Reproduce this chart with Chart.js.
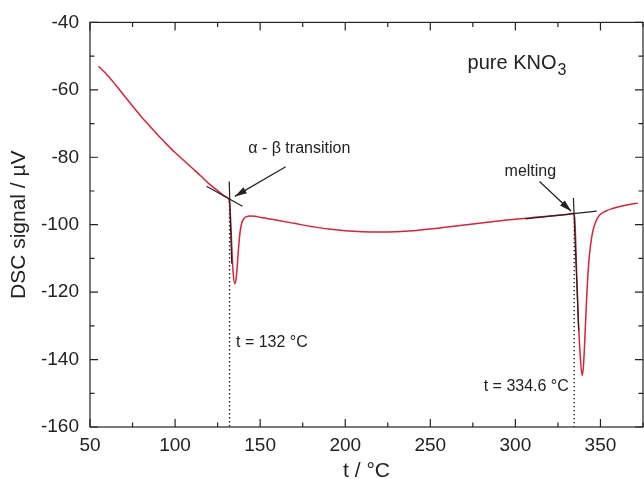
<!DOCTYPE html>
<html>
<head>
<meta charset="utf-8">
<script src="https://cdn.jsdelivr.net/npm/chart.js@4.4.1/dist/chart.umd.min.js"></script>
<style>
html, body { margin: 0; padding: 0; background: #fff; }
</style>
</head>
<body>
<canvas id="myChart" width="644" height="479"></canvas>
<script>
// DSC curve of pure KNO3
const temps = [55, 60, 65, 70, 75, 80, 85, 90, 95, 100, 105, 110, 115, 120, 125, 130,
    131.6, 132.4, 133.2, 134.1, 135.1, 136.0, 137.0, 138.0, 139.0, 140.5, 142, 144, 147, 150,
    160, 170, 180, 190, 200, 210, 220, 230, 240, 250, 260, 270, 280, 290, 300, 310, 320, 330,
    334.3, 335, 336, 337, 338, 339.2, 340, 340.6, 341.9, 343, 344.2, 345.5, 347.5, 349.4, 353, 357, 362, 367, 372];
const signal = [-53, -55.5, -58.5, -61.7, -64.8, -67.9, -70.7, -73.5, -76.1, -78.6, -80.9, -83.2, -85.5, -87.9, -89.9, -91.8,
    -92.5, -96, -105, -114, -117.5, -115.5, -109, -103, -99.8, -98.2, -97.6, -97.4, -97.5, -97.8,
    -98.7, -99.6, -100.5, -101.3, -101.8, -102.1, -102.2, -102.1, -101.8, -101.3, -100.7, -100.1, -99.5, -98.9, -98.4, -97.9, -97.4, -97.0,
    -96.6, -99, -114, -128, -138, -144.7, -142, -136.3, -121.6, -112, -106, -101.9, -98.8, -97.2, -96, -95.2, -94.5, -94.0, -93.6];

// tangent construction (black lines)
const alphaBaseX = [118.5, 139.6];
const alphaBaseY = [-88.6, -94.5];
const alphaSteepX = [131.8, 133.3];
const alphaSteepY = [-87.2, -111.6];
const meltBaseX = [305.9, 347.8];
const meltBaseY = [-98.3, -96.0];
const meltSteepX = [334.1, 337.2];
const meltSteepY = [-92.1, -131.4];

// onset temperatures (dotted verticals)
const onsetT = [132, 334.6];
const onsetTopY = [-93, -98];

// arrows: tail -> tip
const arrowTailX = [165.0, 314.2];
const arrowTailY = [-82.8, -87.2];
const arrowTipX = [135.1, 332.8];
const arrowTipY = [-91.6, -96.0];

// axis ranges
const xMin = 50, xMax = 375, xStep = 50;
const yMin = -160, yMax = -40, yStep = 20;

// text labels placed in data coordinates
const notes = [
    { text: '\u03b1 - \u03b2 transition', x: 143, y: -77.5, align: 'left' },
    { text: 'melting', x: 308.8, y: -84.2, align: 'center' },
    { text: 't = 132 \u00b0C', x: 135.8, y: -134.9, align: 'left' },
    { text: 't = 334.6 \u00b0C', x: 331.4, y: -148.1, align: 'right' }
];

const FONT = "'Liberation Sans', Arial, sans-serif";
const INK = '#222';

function pts(xs, ys) {
    return xs.map((v, i) => ({ x: v, y: ys[i] }));
}

function blackLine(xs, ys) {
    return {
        data: pts(xs, ys),
        showLine: true,
        borderColor: INK,
        borderWidth: 1.2,
        pointRadius: 0
    };
}

const datasets = [
    blackLine(alphaBaseX, alphaBaseY),
    blackLine(alphaSteepX, alphaSteepY),
    blackLine(meltBaseX, meltBaseY),
    blackLine(meltSteepX, meltSteepY),
    {
        data: pts(temps, signal),
        showLine: true,
        borderColor: '#d3243a',
        borderWidth: 1.5,
        pointRadius: 0,
        cubicInterpolationMode: 'monotone'
    }
];

onsetT.forEach((t, i) => {
    datasets.push({
        data: pts([t, t], [onsetTopY[i], yMin]),
        showLine: true,
        borderColor: INK,
        borderWidth: 1.4,
        borderDash: [1.4, 2.6],
        pointRadius: 0
    });
});

arrowTailX.forEach((x0, i) => {
    datasets.push(blackLine([x0, arrowTipX[i]], [arrowTailY[i], arrowTipY[i]]));
});

// frame with inward ticks on all four sides
const frameTicks = {
    id: 'frameTicks',
    afterDatasetsDraw(chart) {
        const { ctx, chartArea: a, scales: { x, y } } = chart;
        ctx.save();
        ctx.strokeStyle = INK;
        ctx.lineWidth = 1.2;
        ctx.beginPath();
        for (let v = xMin; v <= xMax; v += xStep / 2) {
            const px = x.getPixelForValue(v);
            const len = (v - xMin) % xStep === 0 ? 8 : 4.5;
            ctx.moveTo(px, a.bottom); ctx.lineTo(px, a.bottom - len);
            ctx.moveTo(px, a.top); ctx.lineTo(px, a.top + len);
        }
        for (let v = yMin; v <= yMax; v += yStep / 2) {
            const py = y.getPixelForValue(v);
            const len = (v - yMin) % yStep === 0 ? 8 : 4.5;
            ctx.moveTo(a.left, py); ctx.lineTo(a.left + len, py);
            ctx.moveTo(a.right, py); ctx.lineTo(a.right - len, py);
        }
        ctx.stroke();
        ctx.strokeRect(a.left, a.top, a.right - a.left, a.bottom - a.top);
        ctx.restore();
    }
};

// arrowheads and text notes
const notesPlugin = {
    id: 'notes',
    afterDraw(chart) {
        const { ctx, scales: { x, y } } = chart;
        ctx.save();
        ctx.fillStyle = INK;

        arrowTipX.forEach((tx, i) => {
            const x1 = x.getPixelForValue(tx), y1 = y.getPixelForValue(arrowTipY[i]);
            const x0 = x.getPixelForValue(arrowTailX[i]), y0 = y.getPixelForValue(arrowTailY[i]);
            const ang = Math.atan2(y1 - y0, x1 - x0);
            ctx.beginPath();
            ctx.moveTo(x1, y1);
            ctx.lineTo(x1 - 12 * Math.cos(ang) + 3.5 * Math.sin(ang), y1 - 12 * Math.sin(ang) - 3.5 * Math.cos(ang));
            ctx.lineTo(x1 - 12 * Math.cos(ang) - 3.5 * Math.sin(ang), y1 - 12 * Math.sin(ang) + 3.5 * Math.cos(ang));
            ctx.closePath();
            ctx.fill();
        });

        ctx.font = '16px ' + FONT;
        ctx.textBaseline = 'middle';
        notes.forEach(n => {
            ctx.textAlign = n.align;
            ctx.fillText(n.text, x.getPixelForValue(n.x), y.getPixelForValue(n.y));
        });

        // sample name with subscript
        const bx = x.getPixelForValue(271.9), by = y.getPixelForValue(-53.9);
        ctx.textAlign = 'left';
        ctx.textBaseline = 'alphabetic';
        ctx.font = '20px ' + FONT;
        ctx.fillText('pure KNO', bx, by);
        const w = ctx.measureText('pure KNO').width;
        ctx.font = '16px ' + FONT;
        ctx.fillText('3', bx + w + 1, by + 6);
        ctx.restore();
    }
};

new Chart(document.getElementById('myChart'), {
    type: 'scatter',
    data: { datasets: datasets },
    options: {
        responsive: false,
        animation: false,
        devicePixelRatio: 1,
        layout: { padding: { top: 20, right: 1, left: 0, bottom: 0 } },
        plugins: {
            legend: { display: false },
            tooltip: { enabled: false }
        },
        scales: {
            x: {
                type: 'linear',
                min: xMin,
                max: xMax,
                grid: { display: false, drawTicks: false, tickLength: 0 },
                border: { display: false },
                ticks: {
                    stepSize: xStep,
                    includeBounds: false,
                    padding: 7,
                    color: INK,
                    font: { family: FONT, size: 19 }
                },
                title: {
                    display: true,
                    text: 't / \u00b0C',
                    color: INK,
                    font: { family: FONT, size: 21, lineHeight: 0.76 },
                    padding: { top: 0, bottom: 0 }
                },
                afterFit(scale) { scale.height = 52; }
            },
            y: {
                min: yMin,
                max: yMax,
                grid: { display: false, drawTicks: false, tickLength: 0 },
                border: { display: false },
                ticks: {
                    stepSize: yStep,
                    padding: 11,
                    color: INK,
                    font: { family: FONT, size: 19 }
                },
                title: {
                    display: true,
                    text: 'DSC signal / \u00b5V',
                    color: INK,
                    font: { family: FONT, size: 21 },
                    padding: { top: 7, bottom: 0 }
                },
                afterFit(scale) { scale.width = 90; }
            }
        }
    },
    plugins: [frameTicks, notesPlugin]
});
</script>
</body>
</html>
